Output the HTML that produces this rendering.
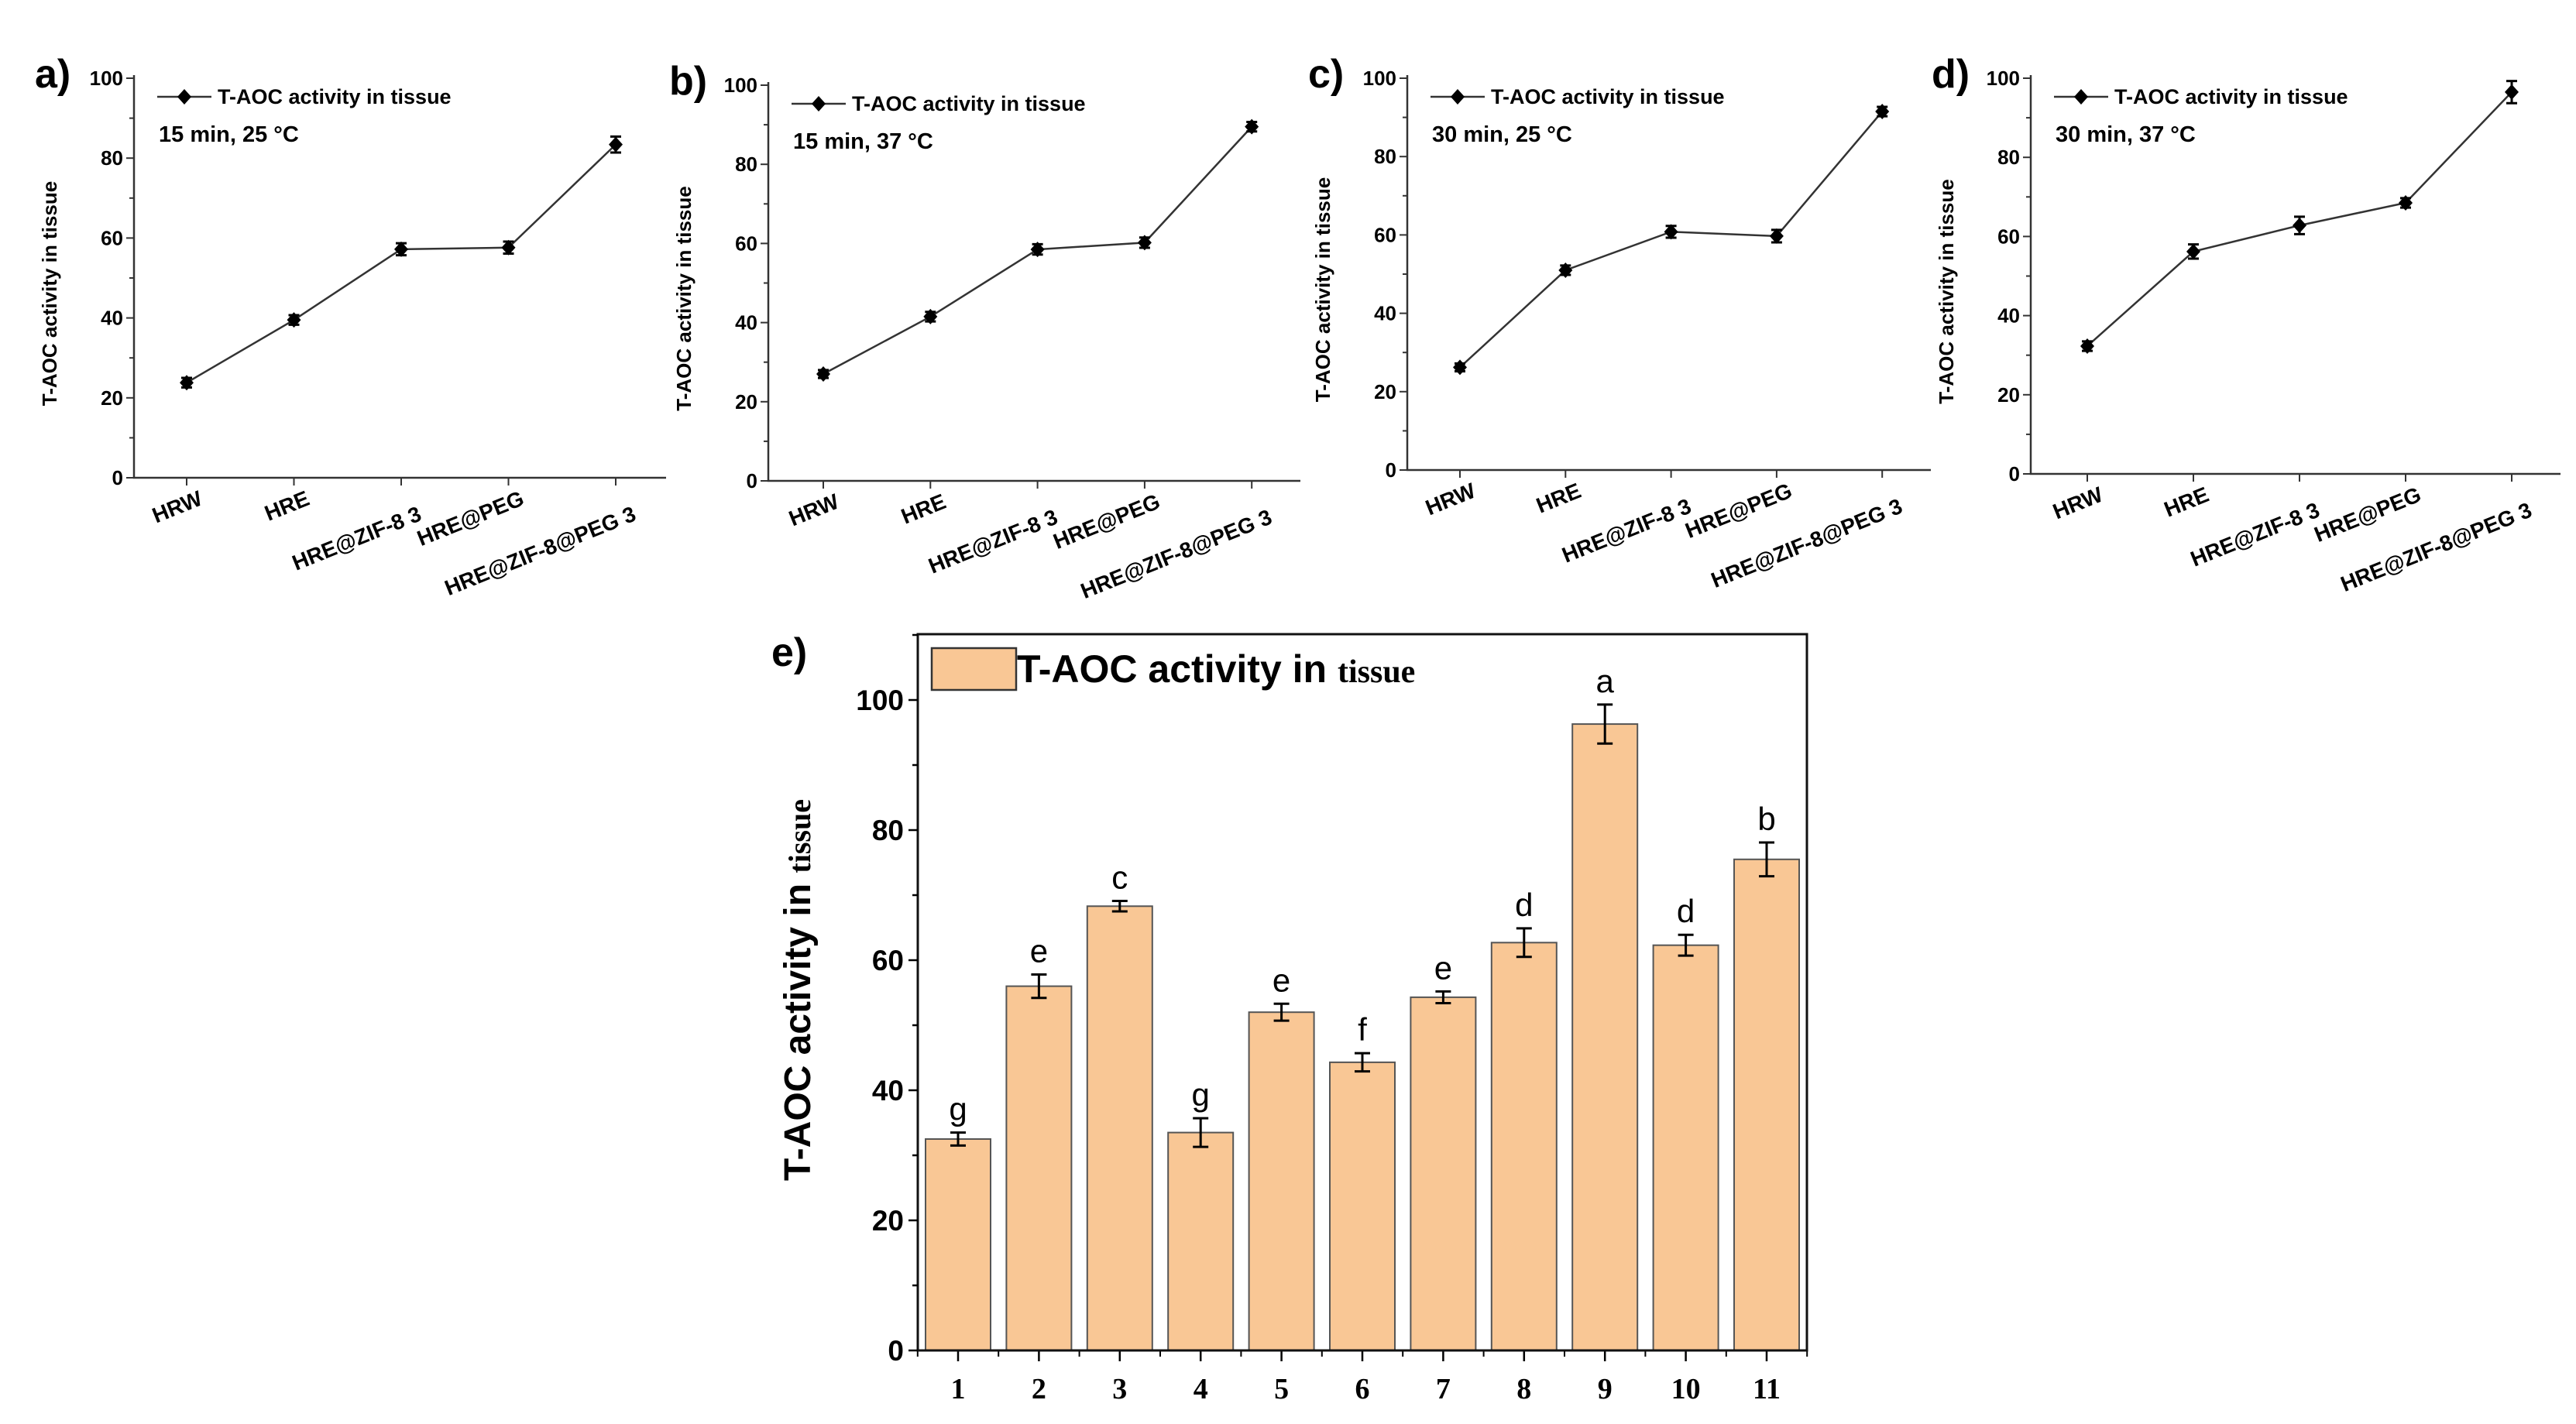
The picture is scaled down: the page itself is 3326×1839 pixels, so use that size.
<!DOCTYPE html>
<html><head><meta charset="utf-8"><style>
html,body{margin:0;padding:0;background:#fff;}
svg{display:block;font-family:"Liberation Sans",Arial,sans-serif;}
</style></head><body>
<svg id="fig" width="3326" height="1839" viewBox="0 0 3326 1839" xmlns="http://www.w3.org/2000/svg">
<rect width="3326" height="1839" fill="#fff"/>
</svg>
<script>
const NS='http://www.w3.org/2000/svg';
const svg=document.getElementById('fig');
// ---- data ----
const lineCategories=['HRW','HRE','HRE@ZIF-8 3','HRE@PEG','HRE@ZIF-8@PEG 3'];
const seriesA=[23.8,39.5,57.2,57.6,83.4];
const errA=[1.2,1.2,1.5,1.5,2];
const seriesB=[27,41.5,58.5,60.2,89.5];
const errB=[1,1.2,1.3,1.3,1.2];
const seriesC=[26.2,51,60.8,59.7,91.5];
const errC=[1,1.2,1.5,1.6,1.2];
const seriesD=[32.3,56.2,62.8,68.5,96.5];
const errD=[1.2,1.8,2.2,1.2,2.8];
const lineTicks=[0,20,40,60,80,100];
const barCategories=['1','2','3','4','5','6','7','8','9','10','11'];
const barValues=[32.5,56,68.3,33.5,52,44.3,54.3,62.7,96.3,62.3,75.5];
const barErrors=[1,1.8,0.8,2.2,1.3,1.4,0.9,2.2,3,1.6,2.6];
const barLetters=['g','e','c','g','e','f','e','d','a','d','b'];
const barTicks=[0,20,40,60,80,100];

function mk(tag,attrs,parent){const e=document.createElementNS(NS,tag);for(const k in attrs)e.setAttribute(k,attrs[k]);(parent||svg).appendChild(e);return e;}

const panels=[
 {id:'a',data:seriesA,err:errA,ax:173,y0:617,y100:101,x0:241,dx:138.5,xend:860,cond:'15 min, 25 °C'},
 {id:'b',data:seriesB,err:errB,ax:992,y0:621,y100:110,x0:1063,dx:138.3,xend:1679,cond:'15 min, 37 °C'},
 {id:'c',data:seriesC,err:errC,ax:1817,y0:607,y100:101,x0:1885,dx:136.3,xend:2493,cond:'30 min, 25 °C'},
 {id:'d',data:seriesD,err:errD,ax:2622,y0:612,y100:101,x0:2695,dx:137,xend:3306,cond:'30 min, 37 °C'}
];
panels.forEach(p=>{
 const g=mk('g',{});
 
 
 const ys=v=>p.y0-(p.y0-p.y100)*v/100;
 const xs=i=>p.x0+p.dx*i;
 const lab=mk('text',{x:p.ax-128,y:p.y100+12,'font-size':52,'font-weight':'bold'},g);lab.textContent=p.id+')';
 
 
 const axes=mk('path',{d:`M${p.ax},${p.y100-4}V${p.y0}H${p.xend}`,stroke:'#333',fill:'none','stroke-width':2.5},g);
 
 
 for(let v=0;v<=100;v+=10){const y=ys(v);mk('line',{x1:p.ax-(v%20?6:10),x2:p.ax,y1:y,y2:y,stroke:'#333','stroke-width':2},g);}
 lineTicks.forEach(v=>{const t=mk('text',{x:p.ax-14,y:ys(v)+9,'font-size':26,'font-weight':'bold','text-anchor':'end'},g);t.textContent=v;
  
  });
 lineCategories.forEach((c,i)=>{const x=xs(i);mk('line',{x1:x,x2:x,y1:p.y0,y2:p.y0+10,stroke:'#333','stroke-width':2},g);
  const off=(i===2||i===4)?[28,54]:[22,34];
  const t=mk('text',{x:x+off[0],y:p.y0+off[1],'font-size':28,'font-weight':'bold','text-anchor':'end',transform:`rotate(-22 ${x+off[0]} ${p.y0+off[1]})`},g);t.textContent=c;
  
  });
 const yt=mk('text',{x:0,y:0,'font-size':26,'font-weight':'bold','text-anchor':'middle',transform:`translate(${p.ax-100},${(p.y0+p.y100)/2+20}) rotate(-90)`},g);yt.textContent='T-AOC activity in tissue';
 
 
 const pts=p.data.map((v,i)=>xs(i)+','+ys(v)).join(' ');
 const pl=mk('polyline',{points:pts,fill:'none',stroke:'#333','stroke-width':2.5},g);
 
 
 p.data.forEach((v,i)=>{const x=xs(i),y=ys(v),e=p.err[i];
  const eb=mk('path',{d:`M${x},${ys(v+e)}V${ys(v-e)}M${x-7},${ys(v+e)}H${x+7}M${x-7},${ys(v-e)}H${x+7}`,stroke:'#000','stroke-width':3,fill:'none'},g);
  
  
  const m=mk('path',{d:`M${x},${y-10}L${x+9},${y}L${x},${y+10}L${x-9},${y}Z`,fill:'#000'},g);
  
  });
 const ly=p.y100+24, lx=p.ax+30;
 mk('line',{x1:lx,x2:lx+70,y1:ly,y2:ly,stroke:'#333','stroke-width':2.5},g);
 mk('path',{d:`M${lx+35},${ly-10}L${lx+44},${ly}L${lx+35},${ly+10}L${lx+26},${ly}Z`,fill:'#000'},g);
 const lt=mk('text',{x:lx+78,y:ly+9,'font-size':27,'font-weight':'bold'},g);lt.textContent='T-AOC activity in tissue';
 
 
 const ct=mk('text',{x:lx+2,y:p.y100+82,'font-size':29,'font-weight':'bold'},g);ct.textContent=p.cond;
 
 
});

// ---- panel e ----
(function(){
 const L=1185,R=2333,T=819,Y0=1744,Y100=904;
 const ys=v=>Y0-(Y0-Y100)*v/100;
 const x0=1237,dx=104.4,bw=84;
 const xs=i=>x0+dx*i;
 const g=mk('g',{});
 
 
 const lab=mk('text',{x:996,y:860,'font-size':52,'font-weight':'bold'},g);lab.textContent='e)';
 
 
 barValues.forEach((v,i)=>{const x=xs(i);
  const b=mk('rect',{x:x-bw/2,y:ys(v),width:bw,height:Y0-ys(v),fill:'#f9c795',stroke:'#555','stroke-width':2},g);
  
  
  const e=barErrors[i];
  const eb=mk('path',{d:`M${x},${ys(v+e)}V${ys(v-e)}M${x-10},${ys(v+e)}H${x+10}M${x-10},${ys(v-e)}H${x+10}`,stroke:'#000','stroke-width':3,fill:'none'},g);
  
  
  const t=mk('text',{x:x,y:ys(v+e)-16,'font-size':42,'text-anchor':'middle'},g);t.textContent=barLetters[i];
  
  
  mk('line',{x1:x,x2:x,y1:Y0,y2:Y0+14,stroke:'#000','stroke-width':2.5},g);
  const xt=mk('text',{x:x,y:Y0+62,'font-size':38,'font-weight':'bold','text-anchor':'middle','font-family':'"Liberation Serif",serif'},g);xt.textContent=barCategories[i];
  
  
 });
 for(let k=0;k<=barCategories.length;k++){const x=xs(k)-dx/2;mk('line',{x1:x,x2:x,y1:Y0,y2:Y0+8,stroke:'#000','stroke-width':2},g);}
 const frame=mk('rect',{x:L,y:T,width:R-L,height:Y0-T,fill:'none',stroke:'#111','stroke-width':3},g);
 
 
 for(let v=0;v<=110;v+=10){const y=ys(v);mk('line',{x1:L-(v%20?7:12),x2:L,y1:y,y2:y,stroke:'#000','stroke-width':2.5},g);}
 barTicks.forEach(v=>{const t=mk('text',{x:L-18,y:ys(v)+13,'font-size':37,'font-weight':'bold','text-anchor':'end'},g);t.textContent=v;
  
  });
 const yt=mk('text',{x:0,y:0,'font-size':48,'font-weight':'bold',transform:`translate(1046,1525) rotate(-90)`},g);
 
 
 const s1=mk('tspan',{},yt);s1.textContent='T-AOC activity in  ';
 const s2=mk('tspan',{'font-family':'"Liberation Serif",serif','font-size':40},yt);s2.textContent='tissue';
 const lb=mk('rect',{x:1203,y:837,width:109,height:54,fill:'#f9c795',stroke:'#333','stroke-width':2.5},g);
 
 
 const lt=mk('text',{x:1313,y:881,'font-size':50,'font-weight':'bold'},g);
 
 
 const a1=mk('tspan',{},lt);a1.textContent='T-AOC activity in  ';
 const a2=mk('tspan',{'font-family':'"Liberation Serif",serif','font-size':42},lt);a2.textContent='tissue';
})();
</script>
</body></html>
